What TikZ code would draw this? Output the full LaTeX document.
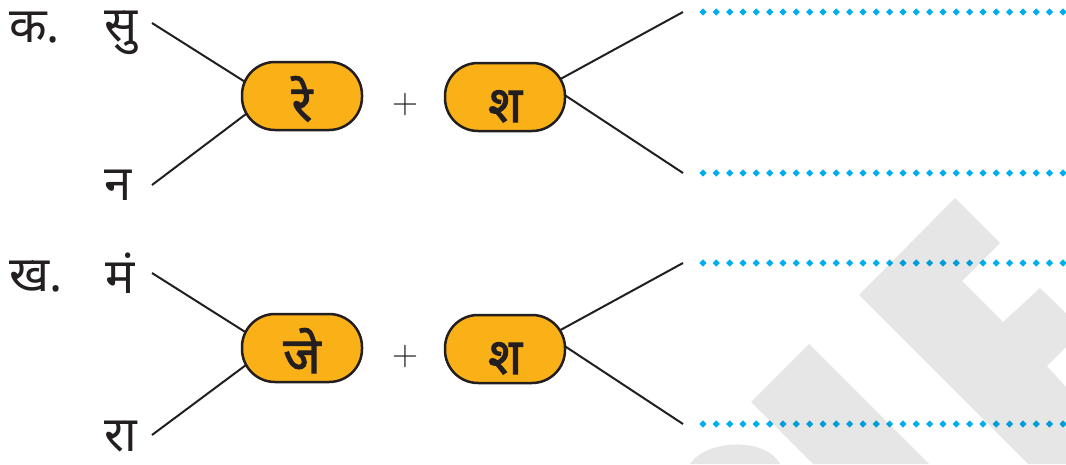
\documentclass[tikz,border=0pt]{standalone}
\usepackage{fontspec}
\newfontfamily\dev[Script=Devanagari]{Noto Sans}
\newfontfamily\devb[Script=Devanagari,FakeBold=2.2]{Noto Sans}
\usetikzlibrary{calc,decorations.markings}
\definecolor{ink}{HTML}{231F20}
\definecolor{boxfill}{RGB}{250,176,23}
\definecolor{dotblue}{HTML}{00AEEF}
\definecolor{wm}{HTML}{E6E6E6}
\tikzset{
  lbl/.style={anchor=base west,inner sep=0pt,font=\dev\fontsize{49}{54}\selectfont,text=ink},
  pill/.style={draw=ink,line width=2.5pt,fill=boxfill,rounded corners=33pt,minimum width=120pt,minimum height=68pt,inner sep=0pt,text height=50pt,text depth=0pt,font=\devb\fontsize{50}{56}\selectfont,text=ink},
  plus/.style={inner sep=0pt,font=\fontsize{36}{40}\selectfont\addfontfeatures{FakeBold=1.2},text=ink},
  conn/.style={draw=ink,line width=2pt},
  dotline/.style={decoration={markings,mark=between positions 0 and 1 step 13.33pt with {\fill[dotblue] (0,-3.6pt)--(3.6pt,0)--(0,3.6pt)--(-3.6pt,0)--cycle;}},decorate}
}
\begin{document}
\begin{tikzpicture}[x=1pt,y=-1pt]
\useasboundingbox (0,0) rectangle (1066,464);
% watermark
\fill[wm] (955,198) -- (1000,243) -- (962,281) -- (1003,322) -- (1040,288) -- (1066,313) -- (1066,347) -- (1047,366) -- (1066,387) -- (1066,464) -- (1028,464) -- (859,295) -- cycle;
\fill[wm] (809,344) -- (929,464) -- (813,464) -- (751,402) -- cycle;
\fill[wm] (690,464) .. controls (705,440) and (765,436) .. (780,464) -- cycle;
% labels
\node[lbl] (ka) at (9,42) {क.};
\node[lbl] (su) at (104,41) {सु};
\node[lbl] (na) at (104,200) {न};
\node[lbl] (kha) at (9,291) {ख.};
\node[lbl] (ma) at (105,293) {मं};
\node[lbl] (ra) at (104,451) {रा};
% coordinates for free ends
\coordinate (a1) at (152,23);
\coordinate (a2) at (152,185);
\coordinate (a3) at (152,273);
\coordinate (a4) at (152,435);
\coordinate (c1) at (250,85);
\coordinate (c2) at (250,111);
\coordinate (c3) at (250,335);
\coordinate (c4) at (250,362);
\coordinate (r1) at (555,82);
\coordinate (r2) at (557,90);
\coordinate (r3) at (555,333);
\coordinate (r4) at (557,341);
\coordinate (e1) at (683,12);
\coordinate (e2) at (683,173);
\coordinate (e3) at (683,263);
\coordinate (e4) at (683,424);
\coordinate (s1) at (703,12);  \coordinate (f1) at (1066,12);
\coordinate (s2) at (703,173); \coordinate (f2) at (1066,173);
\coordinate (s3) at (703,263); \coordinate (f3) at (1066,263);
\coordinate (s4) at (703,424); \coordinate (f4) at (1066,424);
% connectors
\draw[conn] (a1) -- (c1);
\draw[conn] (a2) -- (c2);
\draw[conn] (a3) -- (c3);
\draw[conn] (a4) -- (c4);
\draw[conn] (r1) -- (e1);
\draw[conn] (r2) -- (e2);
\draw[conn] (r3) -- (e3);
\draw[conn] (r4) -- (e4);
% boxes
\node[pill] (b1) at (302,96) {रे};
\node[pill] (b2) at (505,97) {श};
\node[pill] (b3) at (302,348) {जे};
\node[pill] (b4) at (505,349) {श};
\node[plus] (p1) at (405,105) {+};
\node[plus] (p2) at (405,357) {+};
% dotted lines
\begin{scope}[blend mode=multiply]
\path[dotline] (s1) -- (f1);
\path[dotline] (s2) -- (f2);
\path[dotline] (s3) -- (f3);
\path[dotline] (s4) -- (f4);
\end{scope}
\end{tikzpicture}
\end{document}
